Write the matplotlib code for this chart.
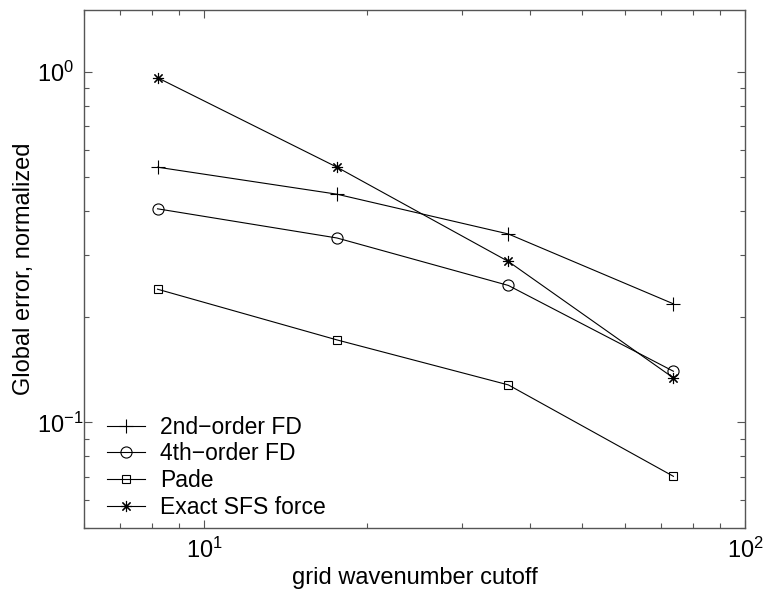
#!/usr/bin/env python3
"""Global error vs. grid wavenumber cutoff for several SFS force schemes."""

import matplotlib

matplotlib.use("Agg")
import matplotlib.pyplot as plt
from matplotlib.ticker import NullFormatter

plt.rcParams["font.family"] = ["Liberation Sans", "DejaVu Sans"]
plt.rcParams["mathtext.default"] = "regular"

# values
CUTOFF = [8.2, 17.6, 36.5, 73.7]
ERR_FD2 = [0.535, 0.448, 0.345, 0.218]
ERR_FD4 = [0.407, 0.336, 0.246, 0.140]
ERR_PADE = [0.240, 0.172, 0.128, 0.0702]
ERR_EXACT = [0.963, 0.535, 0.288, 0.134]

Y_TICKS = [0.1, 1.0]
Y_TICK_LABELS = ["$10^{-1}$", "$10^{0}$"]

SERIES = [
    ("2nd\u2212order FD", ERR_FD2, "+", 10),
    ("4th\u2212order FD", ERR_FD4, "o", 8),
    ("Pade", ERR_PADE, "s", 6),
    ("Exact SFS force", ERR_EXACT, (8, 2, 0), 8),
]

AXIS_GRAY = "#555555"


def main() -> None:
    fig = plt.figure(figsize=(7.65, 5.89), dpi=100)
    ax = fig.add_axes([0.110, 0.1036, 0.864, 0.879])

    for label, values, marker, size in SERIES:
        ax.plot(
            CUTOFF,
            values,
            color="black",
            linewidth=0.8,
            marker=marker,
            markersize=size,
            markerfacecolor="none",
            markeredgecolor="black",
            markeredgewidth=0.8,
            label=label,
        )

    ax.set_xscale("log")
    ax.set_yscale("log")
    ax.set_xlim(6, 100)
    ax.set_ylim(0.05, 1.5)
    ax.xaxis.set_minor_formatter(NullFormatter())
    ax.yaxis.set_minor_formatter(NullFormatter())
    # matlab-style: y tick labels start at a common left edge
    ax.set_yticks(Y_TICKS)
    ax.set_yticklabels(Y_TICK_LABELS, ha="left")

    for spine in ax.spines.values():
        spine.set_color(AXIS_GRAY)
        spine.set_linewidth(1.0)
    ax.tick_params(which="both", direction="in", top=True, right=True, colors=AXIS_GRAY, labelcolor="black")
    ax.tick_params(which="major", length=6, width=0.8, labelsize=17)
    ax.tick_params(which="minor", length=3.5, width=0.8)
    ax.tick_params(axis="x", which="major", pad=7)
    ax.tick_params(axis="y", which="major", pad=34)

    ax.set_xlabel("grid wavenumber cutoff", fontsize=17, labelpad=3)
    ax.set_ylabel("Global error, normalized", fontsize=17, labelpad=1.2)

    ax.legend(
        loc="lower left",
        bbox_to_anchor=(0.0, -0.027),
        frameon=False,
        fontsize=16.5,
        handlelength=1.65,
        handletextpad=0.65,
        labelspacing=0.165,
        borderaxespad=0.6,
    )

    fig.savefig("out.png", dpi=100)
    plt.close(fig)


if __name__ == "__main__":
    main()
